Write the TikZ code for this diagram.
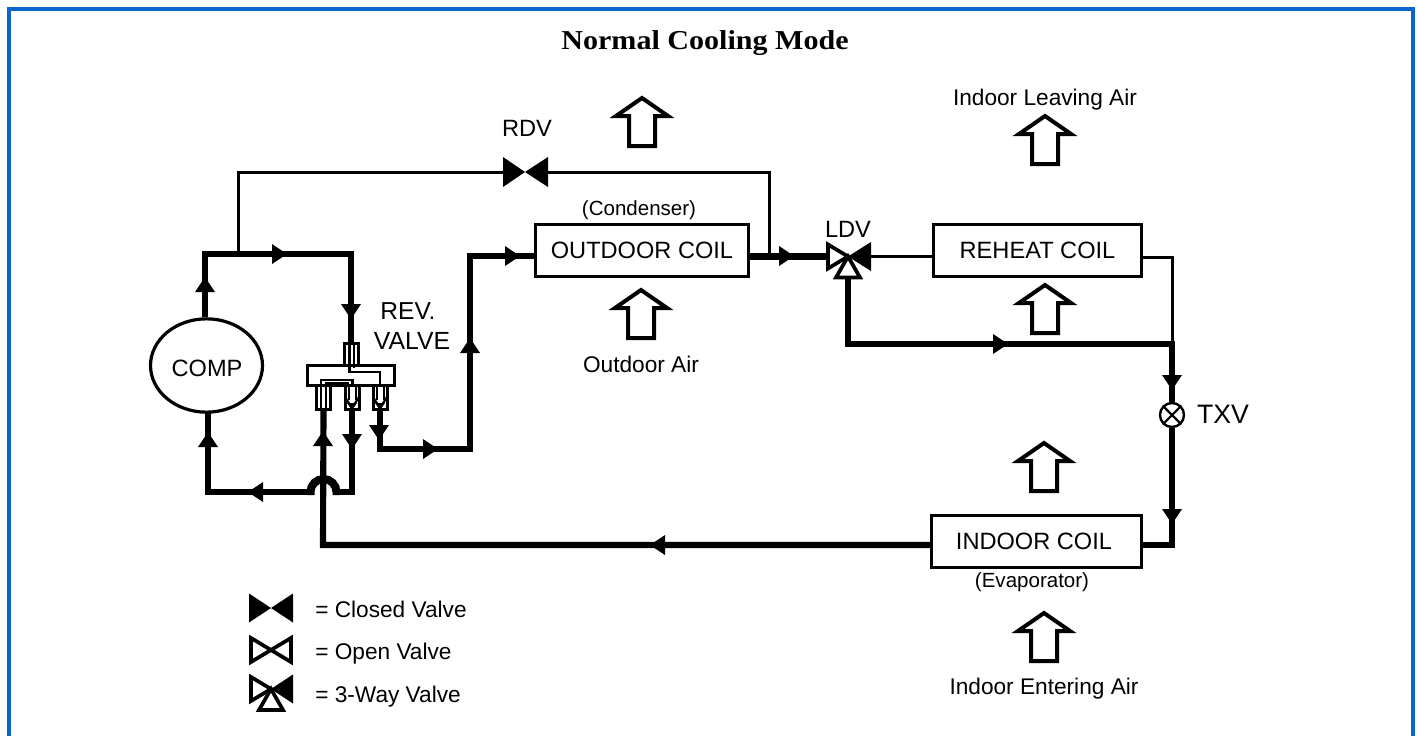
\documentclass[tikz,border=0pt]{standalone}
\usepackage{fontspec}
\setmainfont{Liberation Sans}
\newfontfamily\titlefont[FakeStretch=1.10]{Liberation Serif Bold}
\usetikzlibrary{shapes.geometric}
\definecolor{frameblue}{HTML}{0A66CC}
\tikzset{
  thickpipe/.style={line width=4.6pt},
  thinpipe/.style={line width=2.25pt},
  coilbox/.style={draw=black,fill=white,line width=2.25pt,rectangle,inner sep=0pt,minimum width=#1,minimum height=39pt,font=\fontsize{17.7}{20}\selectfont},
  portbox/.style={draw=black,line width=2.25pt,rectangle,inner sep=0pt,minimum width=10.5pt,minimum height=18pt},
  lblbig/.style={anchor=base,inner sep=0pt,font=\fontsize{17.7}{20}\selectfont},
  lblmid/.style={anchor=base,inner sep=0pt,font=\fontsize{17}{20}\selectfont},
  lblsmall/.style={anchor=base,inner sep=0pt,font=\fontsize{15.4}{18}\selectfont},
  lblleft/.style={anchor=base west,inner sep=0pt,font=\fontsize{17}{20}\selectfont},
  valvepart/.style={line width=2.8pt,line join=miter,miter limit=10},
}
% flow arrowhead: base centre at (#1,#2), pointing along angle #3
\newcommand{\flowtip}[3]{\fill[black,shift={(#1,#2)},rotate=#3] (0,-10) -- (15,0) -- (0,10) -- cycle;}
% hollow air arrow, tip at (#1,#2)
\newcommand{\airarrow}[2]{\draw[line width=3pt,line join=miter,shift={(#1,#2)}]
  (0,3) -- (26,21) -- (13,21) -- (13,51) -- (-13,51) -- (-13,21) -- (-26,21) -- cycle;}
% valve halves centred at (#1,#2), half width #3, half height #4
\newcommand{\leftclosed}[4]{\fill[shift={(#1,#2)}] (0,0) -- (-#3,-#4) -- (-#3,#4) -- cycle;}
\newcommand{\rightclosed}[4]{\fill[shift={(#1,#2)}] (0,0) -- (#3,-#4) -- (#3,#4) -- cycle;}
\newcommand{\leftopen}[4]{\draw[valvepart,fill=white,shift={(#1,#2)}] (0,0) -- (-#3,-#4) -- (-#3,#4) -- cycle;}
\newcommand{\rightopen}[4]{\draw[valvepart,fill=white,shift={(#1,#2)}] (0,0) -- (#3,-#4) -- (#3,#4) -- cycle;}
\newcommand{\downopen}[4]{\draw[valvepart,fill=white,shift={(#1,#2)}] (0,0) -- (-#3,#4) -- (#3,#4) -- cycle;}
\begin{document}
\begin{tikzpicture}[x=0.75pt,y=-0.75pt]
\useasboundingbox (0,0) rectangle (1418,736);
\fill[white] (0,0) rectangle (1418,736);
% frame
\fill[frameblue] (7,7) rectangle (1415,11);
\fill[frameblue] (7,7) rectangle (11,736);
\fill[frameblue] (1411,7) rectangle (1415,736);

\node[anchor=base,inner sep=0pt,font=\titlefont\fontsize{20.5}{24}\selectfont] (title) at (705,49) {Normal Cooling Mode};

% components
\node[coilbox=160pt] (outdoor) at (642,250) {OUTDOOR COIL};
\node[coilbox=155.5pt] (reheat) at (1037.5,250) {REHEAT COIL};
\node[coilbox=157pt] (indoor) at (1036.5,541.5) {INDOOR COIL\kern3.75pt};
\node[draw=black,line width=2.4pt,ellipse,inner sep=0pt,minimum width=84pt,minimum height=70pt] (comp) at (206.5,365.5) {};

% reversing valve parts
\node[portbox,minimum height=16.5pt] (revtop) at (351,354) {};
\node[portbox] (revleft) at (323.5,397.5) {};
\node[portbox] (revmid) at (352,397.5) {};
\node[portbox] (revright) at (380,397.5) {};
\node[draw=black,fill=white,line width=2.25pt,rectangle,inner sep=0pt,minimum width=65pt,minimum height=15pt] (revbody) at (351,375) {};

% way points
\coordinate (hotL) at (205,254);
\coordinate (hotR) at (351,254);
\coordinate (tapL) at (238,254);
\coordinate (tapLup) at (238,172);
\coordinate (rdvW) at (503,172);
\coordinate (rdvE) at (548,172);
\coordinate (tapR) at (769,172);
\coordinate (tapRd) at (769,256);
\coordinate (ldvW) at (827,256.5);
\coordinate (ldvE) at (871,256.5);
\coordinate (ldvS) at (848,279);
\coordinate (ldvC2) at (848,344);
\coordinate (junc) at (1172,344);
\coordinate (reheatR) at (1172,257);
\node[draw=black,fill=white,line width=1.8pt,circle,inner sep=0pt,minimum size=18pt] (txv) at (1172,415) {};
\coordinate (indR) at (1172,545);
\coordinate (indL) at (323,545);
\coordinate (midB) at (352,492);
\coordinate (jumpE) at (336.5,492);
\coordinate (jumpW) at (310.5,492);
\coordinate (jumpEb) at (336.5,495);
\coordinate (jumpWb) at (310.5,495);
\coordinate (sucL) at (208,492);
\coordinate (sucT) at (208,413);
\coordinate (dchB) at (380,449);
\coordinate (dchR) at (470,449);
\coordinate (dchT) at (470,256);
\coordinate (outW) at (534,256);

% thick pipes
\draw[thickpipe] (205,317) -- (hotL) -- (hotR) -- (revtop.north);
\draw[thickpipe] (revmid.south) -- (midB) -- (jumpE);
\draw[line width=6pt] (jumpEb) -- (jumpE) arc[start angle=0,end angle=-180,radius=13] -- (jumpWb);
\draw[thickpipe] (jumpW) -- (sucL) -- (sucT);
\draw[thickpipe] (revleft.south) -- (indL) -- (indoor.west |- indL);
\draw[thickpipe] (revright.south) -- (dchB) -- (dchR) -- (dchT) -- (outW);
\draw[thickpipe] (outdoor.east |- ldvW) -- (ldvW);
\draw[thickpipe] (ldvS) -- (ldvC2) -- (junc) -- (txv.north);
\draw[thickpipe] (txv.south) -- (indR) -- (indoor.east |- indR);
% thin pipes
\draw[thinpipe] (tapL) -- (tapLup) -- (rdvW);
\draw[thinpipe] (rdvE) -- (tapR) -- (tapRd);
\draw[thinpipe] (ldvE) -- (reheat.west |- ldvE);
\draw[thinpipe] (reheat.east |- reheatR) -- (reheatR) -- (junc);

% TXV cross
\draw[line width=1.6pt] (txv.north west) -- (txv.south east) (txv.north east) -- (txv.south west);

% reversing valve inside
\draw[line width=2pt] (349.5,343) -- (349.5,372) -- (380,372) -- (380,386);
\draw[line width=1.5pt] (354,343) -- (354,368);
\draw[line width=2pt] (321,410) -- (321,380) -- (352.5,380) -- (352.5,386);
\draw[line width=1.5pt] (326,410) -- (326,382.5) -- (349,382.5);
\draw[line width=1.5pt] (349,385) -- (349,400) (355.5,385) -- (355.5,400);
\draw[line width=1.5pt] (377,385) -- (377,400) (383.5,385) -- (383.5,400);
\draw[line width=1.6pt] (345,397) -- (352,408) -- (359,397);
\draw[line width=1.6pt] (373,397) -- (380,408) -- (387,397);
\fill (352,410) -- (347,403) -- (357,403) -- cycle;
\fill (380,410) -- (375,403) -- (385,403) -- cycle;

% flow arrowheads
\flowtip{205}{292}{90}
\flowtip{272}{254}{0}
\flowtip{351}{304}{-90}
\flowtip{323}{446}{90}
\flowtip{352}{434}{-90}
\flowtip{263}{492}{180}
\flowtip{208}{447}{90}
\flowtip{379}{425}{-90}
\flowtip{423}{449}{0}
\flowtip{470}{353}{90}
\flowtip{505}{256}{0}
\flowtip{779}{256}{0}
\flowtip{993}{344}{0}
\flowtip{1172}{375}{-90}
\flowtip{1172}{509}{-90}
\flowtip{665}{545}{180}

% valves
\leftclosed{525}{172}{22}{15}
\rightclosed{525}{172}{23}{15}
\leftopen{848}{256.5}{20}{12}
\rightclosed{848}{256.5}{23}{14.5}
\downopen{848}{256.5}{12}{21}

% air arrows
\airarrow{642}{95}
\airarrow{1045}{113}
\airarrow{641}{287}
\airarrow{1045}{282}
\airarrow{1044}{440}
\airarrow{1044}{610}

% labels
\node[lblbig] (lcomp) at (207,376) {COMP};
\node[lblbig] (lrdv) at (527,136) {RDV};
\node[lblbig] (lldv) at (848,237) {LDV};
\node[lblbig,font=\fontsize{18.4}{20}\selectfont] (lrev) at (408,319) {REV.};
\node[lblbig,font=\fontsize{18.6}{20}\selectfont] (lvalve) at (412,349) {VALVE};
\node[lblbig,font=\fontsize{20}{22}\selectfont] (ltxv) at (1223,423) {TXV};
\node[lblsmall] (lcond) at (639,215) {(Condenser)};
\node[lblsmall] (levap) at (1032,587) {(Evaporator)};
\node[lblmid] (lout) at (641,372) {Outdoor Air};
\node[lblmid] (lleave) at (1045,105) {Indoor Leaving Air};
\node[lblmid] (lenter) at (1044,694) {Indoor Entering Air};

% legend
\leftclosed{271}{608}{22}{14.5}
\rightclosed{271}{608}{22}{14.5}
\leftopen{271}{650}{20}{12}
\rightopen{271}{650}{20}{12}
\leftopen{271}{689}{20}{12}
\rightclosed{271}{689}{22}{14.5}
\downopen{271}{689}{12}{21}
\node[lblleft] (lclosed) at (315,617) {= Closed Valve};
\node[lblleft] (lopen) at (315,659) {= Open Valve};
\node[lblleft] (l3way) at (315,702) {= 3-Way Valve};
\end{tikzpicture}
\end{document}
